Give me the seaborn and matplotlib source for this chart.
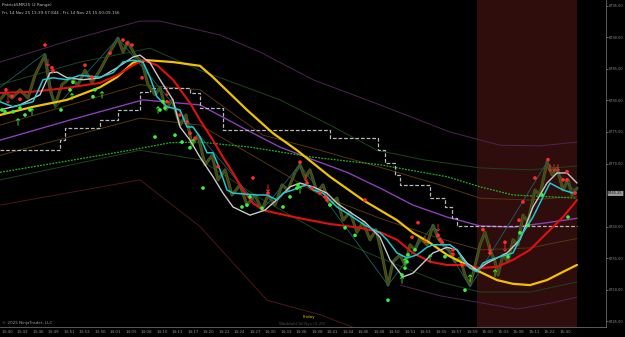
import matplotlib
matplotlib.use("Agg")
import matplotlib.pyplot as plt
import seaborn as sns
import pandas as pd

# ---------------- data ----------------
time_labels = ["13:40", "13:43", "13:46", "13:49", "13:51", "13:53", "13:56", "14:01", "14:05",
               "14:08", "14:10", "14:13", "14:17", "14:20", "14:22", "14:24", "14:27", "14:30",
               "14:33", "14:36", "14:38", "14:41", "14:44", "14:46", "14:48", "14:50", "14:51",
               "14:53", "14:55", "14:57", "14:59", "15:00", "15:03", "15:08", "15:11", "15:22",
               "15:40"]
price_ticks = [6795, 6790, 6785, 6780, 6775, 6770, 6760, 6755, 6750, 6745]
last_price = 6765.25

price_x = [0, 6, 12, 20, 28, 35, 45, 50, 55, 62, 70, 78, 85, 92, 100, 108, 118, 123, 128, 135,
           142, 148, 155, 160, 166, 172, 180, 186, 192, 198, 205, 212, 218, 225, 232, 240, 247,
           255, 262, 268, 275, 282, 288, 295, 300, 305, 310, 317, 323, 330, 337, 343, 350, 357,
           363, 370, 376, 382, 388, 393, 400, 405, 410, 415, 420, 427, 433, 438, 443, 450, 455,
           460, 465, 470, 474, 480, 485, 490, 495, 498, 503, 508, 513, 518, 523, 528, 535, 540,
           547, 552, 557, 563, 568, 572, 577]
price_y = [6780.1, 6781.3, 6780.4, 6781.7, 6780.4, 6784.0, 6787.2, 6781.7, 6779.3, 6782.5,
           6783.6, 6782.5, 6784.8, 6782.9, 6784.8, 6787.2, 6789.9, 6787.7, 6789.3, 6787.2,
           6786.1, 6782.5, 6780.9, 6782.0, 6778.5, 6780.1, 6776.1, 6777.7, 6772.9, 6774.5,
           6769.8, 6771.3, 6767.4, 6769.0, 6765.0, 6766.6, 6763.4, 6765.0, 6762.6, 6765.0,
           6763.4, 6766.6, 6765.8, 6768.6, 6769.8, 6767.7, 6769.0, 6765.5, 6766.6, 6763.4,
           6764.5, 6761.0, 6762.3, 6759.1, 6760.7, 6757.9, 6759.5, 6755.5, 6750.7, 6754.4,
           6755.5, 6753.9, 6757.1, 6756.3, 6758.2, 6757.1, 6760.2, 6758.2, 6757.1, 6756.0,
           6754.4, 6755.0, 6752.3, 6750.7, 6753.1, 6757.1, 6759.1, 6756.3, 6754.4, 6752.3,
           6755.5, 6754.4, 6757.9, 6757.1, 6761.8, 6760.7, 6765.8, 6765.0, 6770.2, 6768.2,
           6769.3, 6765.8, 6767.4, 6765.0, 6766.1]

zigzag_x = [0, 45, 55, 118, 262, 300, 388, 433, 470, 547, 577]
zigzag_y = [6782.1, 6787.5, 6778.8, 6789.9, 6762.6, 6769.8, 6750.7, 6760.2, 6750.4, 6770.2, 6765.3]

yellow_x = [0, 33, 67, 100, 117, 133, 147, 173, 200, 213, 247, 273, 297, 330, 363, 380, 397,
            413, 430, 447, 463, 480, 497, 513, 530, 547, 563, 577]
yellow_y = [6777.7, 6779.0, 6780.1, 6782.1, 6783.7, 6786.0, 6786.4, 6786.1, 6785.5, 6783.7,
            6778.5, 6774.8, 6772.1, 6767.9, 6764.2, 6762.6, 6761.0, 6759.0, 6757.4, 6755.5,
            6754.2, 6752.8, 6751.5, 6750.9, 6750.7, 6751.5, 6752.8, 6753.9]

red_x = [0, 33, 67, 100, 117, 133, 143, 157, 173, 190, 200, 213, 223, 233, 243, 253, 263, 280,
         300, 330, 360, 380, 397, 413, 430, 447, 463, 480, 497, 513, 530, 547, 563, 577]
red_y = [6781.2, 6781.4, 6782.0, 6782.8, 6784.0, 6785.6, 6786.4, 6785.6, 6783.3, 6779.6,
         6776.9, 6773.7, 6771.0, 6768.5, 6765.8, 6763.7, 6762.6, 6762.0, 6761.3, 6760.4,
         6759.8, 6759.1, 6757.9, 6755.8, 6754.4, 6753.9, 6753.9, 6753.4, 6753.6, 6754.7,
         6756.3, 6759.0, 6761.5, 6764.2]

white_x = [0, 20, 40, 50, 57, 67, 83, 100, 117, 133, 140, 150, 160, 173, 180, 190, 200, 213,
           223, 233, 250, 265, 280, 290, 300, 313, 327, 337, 347, 365, 380, 390, 403, 413, 423,
           433, 447, 457, 467, 477, 487, 497, 507, 520, 533, 547, 557, 567, 577]
white_y = [6778.5, 6779.3, 6780.9, 6784.4, 6784.5, 6783.6, 6783.3, 6783.6, 6785.2, 6786.9,
           6787.2, 6786.0, 6783.3, 6780.1, 6775.8, 6773.7, 6771.0, 6767.9, 6765.3, 6763.1,
           6761.8, 6762.6, 6764.7, 6766.3, 6766.9, 6766.3, 6765.3, 6763.7, 6762.6, 6760.7,
           6758.3, 6754.7, 6752.0, 6752.6, 6754.2, 6755.8, 6756.7, 6756.3, 6754.2, 6753.1,
           6754.2, 6755.0, 6755.8, 6757.9, 6763.1, 6766.9, 6768.5, 6768.5, 6766.9]

cyan_x = [0, 13, 33, 43, 53, 67, 80, 100, 113, 123, 133, 143, 150, 157, 167, 180, 187, 193,
          200, 207, 213, 220, 227, 233, 257, 267, 277, 283, 293, 300, 307, 313, 323, 330, 337,
          350, 365, 380, 387, 397, 407, 417, 427, 433, 450, 457, 463, 470, 477, 483, 490, 500,
          513, 523, 533, 543, 550, 557, 563, 573]
cyan_y = [6779.8, 6779.0, 6779.8, 6783.3, 6783.6, 6783.3, 6784.0, 6783.7, 6784.4, 6786.1,
          6786.4, 6786.1, 6783.7, 6780.6, 6779.0, 6778.5, 6775.8, 6775.8, 6774.2, 6771.7,
          6771.7, 6769.0, 6765.8, 6765.3, 6765.0, 6765.0, 6764.2, 6765.3, 6765.8, 6766.3,
          6766.6, 6765.8, 6765.3, 6764.2, 6763.1, 6761.8, 6760.2, 6759.0, 6757.9, 6755.8,
          6755.0, 6755.5, 6756.7, 6757.1, 6757.1, 6756.3, 6754.7, 6753.4, 6752.8, 6754.2,
          6754.7, 6755.2, 6755.8, 6759.0, 6761.5, 6764.7, 6766.9, 6766.3, 6765.8, 6765.3]

stop_x = [0, 60, 65, 100, 118, 140, 150, 190, 200, 223, 330, 378, 385, 395, 400, 430, 445, 452,
          457, 577]
stop_y = [6772.1, 6773.7, 6775.6, 6776.9, 6778.5, 6781.3, 6782.0, 6781.2, 6778.8, 6775.3,
          6774.0, 6772.1, 6770.1, 6768.2, 6766.6, 6764.5, 6763.1, 6761.3, 6760.1, 6760.1]

gdot_x = [0, 60, 130, 170, 200, 250, 313, 380, 447, 480, 513, 577]
gdot_y = [6768.6, 6770.2, 6772.1, 6773.3, 6773.4, 6772.6, 6771.0, 6769.8, 6767.9, 6766.3,
          6765.0, 6764.5]

purple_x = [0, 70, 143, 200, 247, 280, 313, 347, 380, 413, 447, 480, 513, 547, 577]
purple_y = [6773.7, 6776.9, 6780.1, 6779.3, 6775.3, 6772.6, 6770.6, 6768.6, 6766.1, 6763.4,
            6761.5, 6760.1, 6759.9, 6760.6, 6761.3]

outer_up_x = [0, 75, 140, 160, 220, 260, 313, 380, 450, 500, 540, 577]
outer_up_y = [6786.1, 6789.8, 6792.6, 6792.6, 6790.4, 6787.7, 6783.3, 6779.3, 6775.0, 6772.9,
              6772.8, 6773.4]

green_up_x = [0, 80, 150, 200, 280, 330, 377, 423, 480, 530, 577]
green_up_y = [6782.5, 6786.1, 6788.3, 6784.8, 6780.1, 6776.1, 6772.1, 6770.6, 6769.3, 6769.0,
              6769.6]

brown_up_x = [0, 140, 200, 263, 320, 380, 440, 480, 530, 577]
brown_up_y = [6776.1, 6782.5, 6781.7, 6774.5, 6772.1, 6769.4, 6766.6, 6764.5, 6764.2, 6764.8]

brown_lo_x = [0, 140, 200, 260, 320, 380, 440, 480, 530, 577]
brown_lo_y = [6771.3, 6777.2, 6776.1, 6770.6, 6765.0, 6761.3, 6758.1, 6756.3, 6756.6, 6758.1]

green_lo_x = [0, 140, 200, 260, 320, 380, 440, 480, 530, 577]
green_lo_y = [6767.4, 6772.1, 6770.6, 6764.5, 6759.1, 6755.0, 6751.2, 6749.6, 6749.6, 6751.2]

maroon_lo_x = [0, 140, 200, 267, 320, 360]
maroon_lo_y = [6763.4, 6767.4, 6760.0, 6748.3, 6746.0, 6743.6]

purple_lo_x = [400, 440, 477, 517, 553, 577]
purple_lo_y = [6750.7, 6749.0, 6748.0, 6746.9, 6747.9, 6748.8]

red_dot_x = [6, 12, 20, 45, 52, 53, 85, 92, 110, 123, 127, 132, 142, 167, 180, 187, 190, 195,
             218, 253, 268, 300, 307, 312, 320, 325, 327, 365, 412, 418, 438, 440, 442, 453, 453,
             462, 483, 490, 505, 519, 523, 535, 548, 563, 567, 567, 575]
red_dot_y = [6781.7, 6780.7, 6780.2, 6788.8, 6785.2, 6784.7, 6785.6, 6783.7, 6787.5, 6789.6,
             6789.1, 6788.8, 6783.6, 6779.8, 6777.7, 6776.6, 6774.8, 6774.0, 6769.5, 6767.7,
             6765.3, 6770.2, 6766.9, 6766.1, 6765.3, 6764.7, 6764.2, 6764.2, 6758.3, 6760.6,
             6758.6, 6757.9, 6757.5, 6756.3, 6755.6, 6753.9, 6759.5, 6755.8, 6757.5, 6761.0,
             6763.9, 6767.7, 6770.6, 6767.4, 6767.4, 6768.7, 6765.3]

red_arrow_x = [8, 48, 167, 268, 306, 425, 438, 490, 505, 550, 554, 558]
red_arrow_y = [6780.1, 6786.0, 6781.3, 6766.1, 6767.7, 6757.9, 6759.8, 6756.6, 6756.6, 6769.3,
               6769.3, 6769.3]

green_dot_x = [2, 5, 13, 20, 25, 30, 61, 70, 73, 93, 95, 155, 160, 163, 165, 175, 182, 190, 203,
               242, 247, 250, 262, 283, 290, 297, 298, 330, 345, 355, 388, 402, 405, 407, 408,
               415, 445, 465, 508, 520, 528, 542, 568]
green_dot_y = [6778.5, 6778.2, 6778.2, 6778.8, 6777.7, 6778.5, 6778.5, 6781.7, 6782.9, 6780.6,
               6781.7, 6774.2, 6778.5, 6779.8, 6778.8, 6774.5, 6773.4, 6772.5, 6766.1, 6763.1,
               6763.4, 6764.7, 6762.9, 6763.1, 6764.7, 6766.1, 6766.6, 6763.4, 6759.8, 6758.6,
               6748.3, 6752.3, 6753.4, 6754.4, 6755.5, 6756.3, 6755.2, 6749.9, 6755.2, 6759.0,
               6760.2, 6765.0, 6761.5]

green_arrow_x = [18, 32, 72, 102, 158, 193, 300, 402, 405, 430, 470, 495]
green_arrow_y = [6776.6, 6778.2, 6780.6, 6780.9, 6778.5, 6773.3, 6765.8, 6751.5, 6754.4,
                 6755.0, 6751.8, 6752.6]

# ---------------- drawing ----------------
sns.set_theme(style="dark")
plt.rcParams["font.family"] = ["DejaVu Sans"]

W, H = 625, 337
fig = plt.figure(figsize=(W / 100, H / 100), dpi=100, facecolor="black")
ax = fig.add_axes([0, 10 / H, 606 / W, 327 / H])
ax.set_facecolor("black")

ax.axvspan(477, 577, color="#2f0d0d", lw=0, zorder=0)


def line(xs, ys, color, lw, **kw):
    df = pd.DataFrame({"x": xs, "y": ys})
    sns.lineplot(data=df, x="x", y="y", ax=ax, color=color, lw=lw, estimator=None,
                 sort=False, **kw)


# bands
line(outer_up_x, outer_up_y, "#4e2450", 0.7)
line(green_up_x, green_up_y, "#1d431d", 0.7)
line(brown_up_x, brown_up_y, "#553610", 0.7)
line(brown_lo_x, brown_lo_y, "#553610", 0.7)
line(green_lo_x, green_lo_y, "#1d431d", 0.7)
line(maroon_lo_x, maroon_lo_y, "#4a1818", 0.7)
line(purple_lo_x, purple_lo_y, "#4e2450", 0.7)
line(purple_x, purple_y, "#8a3fb5", 1.0)
line(gdot_x, gdot_y, "#22b022", 0.9, linestyle=(0, (1.5, 1)))
line(stop_x, stop_y, "#b8b8b8", 0.9, linestyle=(0, (3, 1.5)), drawstyle="steps-post")

# price (candles) and zigzag
line(price_x, price_y, "#35601c", 2.2)
line(price_x, price_y, "#6e2a12", 0.6)
line(zigzag_x, zigzag_y, "#1b6262", 0.6)

# moving averages
line(yellow_x, yellow_y, "#f2c200", 1.6)
line(red_x, red_y, "#e01010", 1.5)
line(white_x, white_y, "#c8c8c8", 1.0)
line(cyan_x, cyan_y, "#20c8d0", 1.1)

# signals
sns.scatterplot(x=red_dot_x, y=red_dot_y, ax=ax, color="#ff2a2a", s=7, edgecolor="none",
                zorder=5)
sns.scatterplot(x=green_dot_x, y=green_dot_y, ax=ax, color="#3cf03c", s=7, edgecolor="none",
                zorder=5)
sns.scatterplot(x=red_arrow_x, y=red_arrow_y, ax=ax, color="#ff2a2a", marker=r"$\downarrow$",
                s=28, edgecolor="none", zorder=6)
sns.scatterplot(x=green_arrow_x, y=green_arrow_y, ax=ax, color="#3cf03c", marker=r"$\uparrow$",
                s=28, edgecolor="none", zorder=6)

ax.set_xlim(0, 606)
ax.set_ylim(6744.05, 6795.95)
ax.set_xlabel("")
ax.set_ylabel("")
ax.grid(False)

# axes styling
for s in ("top", "left"):
    ax.spines[s].set_visible(False)
for s in ("right", "bottom"):
    ax.spines[s].set_visible(True)
    ax.spines[s].set_color("#6a6a6a")
    ax.spines[s].set_linewidth(0.6)

ax.yaxis.tick_right()
ax.set_yticks(price_ticks)
ax.set_yticklabels([f"{v:.2f}" for v in price_ticks])
ax.tick_params(axis="y", colors="#8c8c8c", labelsize=2.5, length=1.5, width=0.5, pad=0.5,
               left=False, right=True)
ax.set_xticks([7 + 15.5 * i for i in range(len(time_labels))])
ax.set_xticklabels(time_labels)
ax.tick_params(axis="x", colors="#8c8c8c", labelsize=3, length=0, pad=2.5)

# last price box
ax.annotate(f"{last_price:.2f}", xy=(1.0, last_price), xycoords=("axes fraction", "data"),
            xytext=(1.6, 0), textcoords="offset points", fontsize=2.5, color="#111111",
            va="center", ha="left", annotation_clip=False,
            bbox=dict(boxstyle="round,pad=0.15", fc="#9a9a9a", ec="none"))

# texts
fig.text(2 / W, 1 - 5 / H, "PatrickSMR25 (2 Range)", fontsize=3, color="#bdbdbd", va="center")
fig.text(2 / W, 1 - 13 / H,
         "Fri, 14 Nov 25 13:39:57.844 - Fri, 14 Nov 25 15:50:09.156",
         fontsize=3, color="#bdbdbd", va="center")
fig.text(2 / W, 1 - 323 / H, "\u00a9 2025 NinjaTrader, LLC", fontsize=3, color="#9a9a9a",
         va="center")
fig.text(309 / W, 1 - 317 / H, "Friday", fontsize=3, color="#e0b800", va="center",
         ha="center")
fig.text(302 / W, 1 - 324 / H, "WaddahChillSys (0.20)", fontsize=3, color="#4a4a4a",
         va="center", ha="center")

fig.savefig("out.png", dpi=100, facecolor="black")
